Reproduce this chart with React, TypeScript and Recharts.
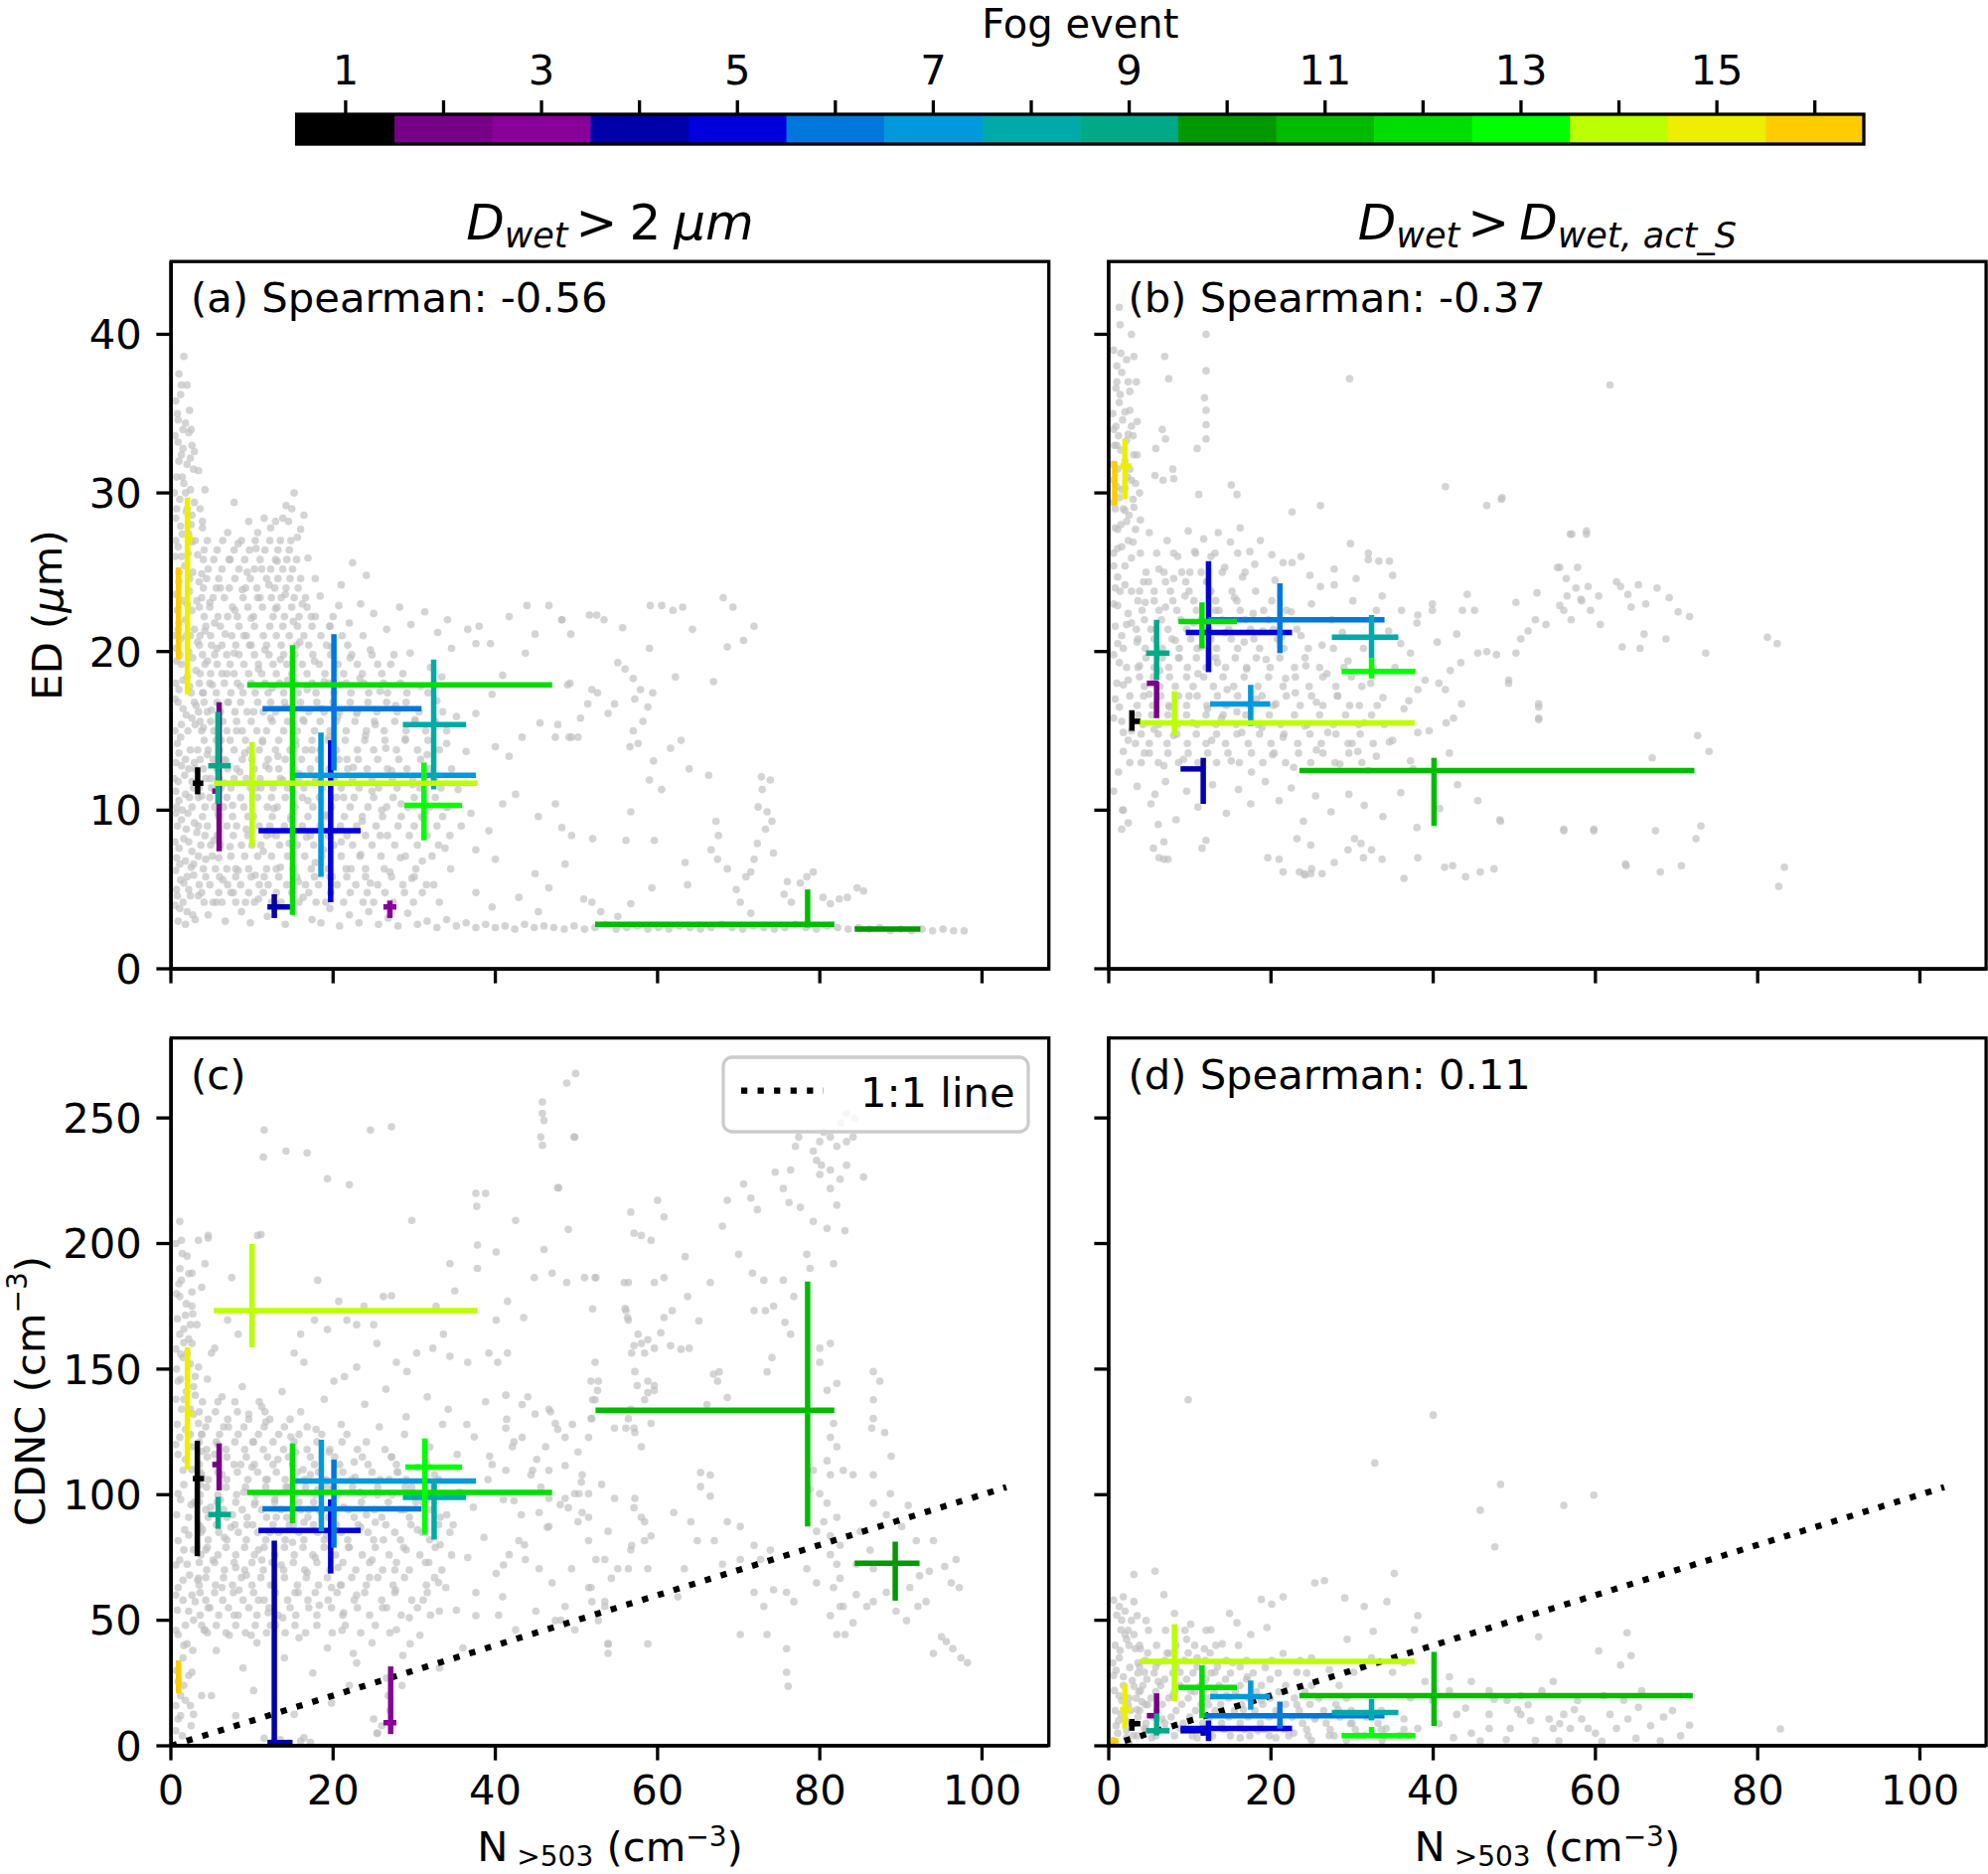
import React from 'react';
import { ScatterChart, Scatter, XAxis, YAxis, ErrorBar } from 'recharts';

const FONT = "'DejaVu Sans', sans-serif";

// fog event colours (nipy_spectral, 16 steps)
const eventColors = [
  '#000000', '#770088', '#880099', '#0000aa', '#0000dd', '#0077dd', '#0099dd', '#00aaaa',
  '#00aa88', '#009900', '#00bb00', '#00dd00', '#00ff00', '#bbff00', '#eeee00', '#ffcc00',
];
const eventTicks = [1, 3, 5, 7, 9, 11, 13, 15];

const xTicks = [0, 20, 40, 60, 80, 100];
const edTicks = [0, 10, 20, 30, 40];
const cdncTicks = [0, 50, 100, 150, 200, 250];

// [event, x median, x q25, x q75, y median, y q25, y q75]
const edWideEvents = [
  [1, 3.3, 2.7, 4.0, 11.7, 11.0, 12.7],
  [2, 5.95, 5.1, 6.0, 11.2, 7.4, 16.8],
  [3, 27.0, 26.2, 27.8, 3.9, 3.2, 4.3],
  [4, 12.75, 11.9, 14.7, 3.9, 3.2, 4.7],
  [5, 19.7, 10.8, 23.4, 8.7, 4.2, 14.4],
  [6, 20.1, 11.3, 30.9, 16.4, 12.5, 21.1],
  [7, 18.5, 15.3, 37.6, 12.2, 5.8, 14.9],
  [8, 32.4, 28.6, 36.4, 15.4, 11.3, 19.5],
  [9, 5.8, 4.6, 7.4, 12.8, 10.4, 16.2],
  [10, 88.0, 84.3, 92.4, 2.5, 2.45, 2.55],
  [11, 78.5, 52.3, 81.8, 2.8, 2.6, 5.0],
  [12, 15.0, 9.4, 47.0, 17.9, 3.4, 20.4],
  [13, 31.2, 28.8, 35.9, 10.3, 8.1, 13.0],
  [14, 10.0, 5.3, 37.8, 11.7, 7.7, 14.3],
  [15, 2.04, 1.7, 2.7, 27.1, 17.3, 29.7],
  [16, 0.94, 0.9, 1.0, 22.4, 19.5, 25.3],
];

const edActEvents = [
  [1, 2.85, 2.8, 3.9, 15.6, 15.0, 16.3],
  [2, 5.9, 4.7, 6.1, 18.0, 15.8, 18.1],
  [4, 11.65, 8.85, 11.65, 12.6, 10.4, 13.3],
  [5, 12.3, 9.5, 22.6, 21.2, 18.7, 25.7],
  [6, 21.1, 12.3, 34.0, 22.0, 19.9, 24.3],
  [7, 17.5, 12.5, 19.9, 16.7, 15.3, 17.9],
  [8, 32.4, 27.5, 35.7, 20.9, 19.6, 22.3],
  [9, 5.9, 4.6, 7.5, 19.9, 18.2, 22.0],
  [11, 40.1, 23.5, 72.2, 12.5, 9.0, 13.3],
  [12, 11.5, 8.6, 15.8, 21.9, 20.2, 23.1],
  [13, 32.4, 28.7, 37.8, 18.75, 18.3, 19.6],
  [14, 8.1, 3.85, 37.7, 15.5, 14.7, 17.5],
  [15, 2.0, 1.4, 2.8, 31.7, 29.6, 33.4],
  [16, 0.74, 0.7, 0.8, 30.5, 29.2, 32.0],
];

const cdncWideEvents = [
  [1, 3.26, 2.7, 4.1, 106.4, 75.5, 121.5],
  [2, 5.95, 5.1, 6.0, 112.0, 101.7, 120.4],
  [3, 27.1, 26.2, 27.8, 9.2, 4.7, 31.6],
  [4, 12.75, 11.9, 15.0, 1.3, 1.3, 81.7],
  [5, 19.7, 10.8, 23.4, 85.8, 68.6, 98.1],
  [6, 20.1, 11.3, 30.9, 94.4, 78.9, 114.0],
  [7, 18.55, 15.3, 37.6, 105.4, 85.4, 121.9],
  [8, 32.45, 28.6, 36.4, 98.9, 82.1, 106.4],
  [9, 5.83, 4.6, 7.4, 92.1, 86.4, 99.1],
  [10, 89.3, 84.3, 92.3, 72.7, 57.8, 81.3],
  [11, 78.5, 52.35, 81.8, 133.6, 87.3, 184.9],
  [12, 15.0, 9.4, 47.0, 100.9, 88.6, 120.4],
  [13, 31.3, 28.9, 35.9, 111.0, 84.1, 122.4],
  [14, 10.0, 5.3, 37.8, 173.3, 158.7, 199.8],
  [15, 2.04, 1.7, 2.7, 132.1, 110.1, 158.7],
  [16, 0.94, 0.9, 1.0, 27.0, 20.9, 34.0],
];

const cdncActEvents = [
  [1, 2.85, 2.5, 3.9, 8.8, 6.0, 10.7],
  [2, 5.9, 4.7, 6.1, 12.0, 11.6, 20.9],
  [4, 11.65, 8.85, 11.65, 6.0, 4.0, 8.0],
  [5, 12.3, 8.85, 22.6, 6.9, 1.9, 10.1],
  [6, 21.1, 11.8, 34.0, 12.0, 6.9, 17.6],
  [7, 17.5, 12.5, 19.9, 19.6, 14.4, 26.0],
  [8, 32.4, 27.5, 35.7, 13.3, 10.1, 18.7],
  [9, 5.9, 4.6, 7.5, 6.0, 4.1, 12.9],
  [11, 40.1, 23.5, 72.0, 20.0, 7.9, 37.4],
  [12, 11.5, 8.6, 15.8, 23.2, 11.0, 32.1],
  [13, 32.4, 28.7, 37.8, 4.1, 4.1, 7.5],
  [14, 8.1, 3.85, 37.7, 33.6, 17.8, 48.4],
  [15, 2.0, 1.4, 2.8, 14.4, 6.9, 24.7],
  [16, 0.7, 0.2, 1.2, 1.9, 1.0, 3.0],
];

const oneToOne = [{ x: 0, y: 0 }, { x: 103, y: 103 }];

// gray background samples [N>503, value]
const edWideCloud = [
  [1.0,37.5],[1.2,36.2],[0.8,35.0],[1.5,34.0],[0.9,33.2],[2.2,33.8],[2.6,33.0],[1.3,32.4],[2.0,31.8],[2.8,31.5],
  [0.7,31.0],[1.6,30.6],[2.4,30.2],[1.1,29.6],[2.9,29.4],[1.9,28.8],[0.6,28.4],[2.5,28.0],[1.4,27.4],[3.0,27.0],
  [0.9,26.6],[2.1,26.2],[1.7,25.4],[2.7,25.0],[1.0,24.4],[2.3,23.8],[3.2,23.2],[0.8,22.6],[1.8,22.0],[2.9,21.4],
  [1.2,20.8],[2.2,20.0],[0.7,19.4],[3.1,18.8],[1.5,18.2],[2.5,17.4],[0.9,16.8],[1.9,16.0],[3.0,15.4],[1.2,14.6],
  [2.4,13.8],[0.6,13.0],[1.7,12.2],[2.8,11.4],[1.0,10.6],[2.1,9.8],[0.8,9.0],[1.6,8.2],[2.6,7.4],[1.1,6.6],
  [2.0,5.8],[0.7,5.0],[1.5,4.2],[2.7,3.4],[0.9,3.0],[1.8,2.8],[3.0,3.1],[0.5,33.6],[1.8,34.4],[2.9,32.6],
  [3.4,31.4],[0.4,30.0],[3.6,29.0],[0.5,26.0],[3.3,26.1],[3.8,24.9],[0.4,21.0],[0.5,17.0],[0.4,12.0],[0.5,8.0],
  [0.5,4.0],[1.6,38.6],[1.3,36.8],[2.3,35.2],[1.5,32.8],[2.0,29.0],[1.2,27.9],[2.6,26.9],[3.9,27.8],[4.2,30.2],
  [15.2,30.0],[14.2,29.2],[16.0,27.7],[11.5,28.4],[10.7,27.5],[7.8,29.4],[7.0,27.5],[8.3,26.8],
  [10.5,26.5],[12.3,27.8],[13.8,28.4],[14.9,29.0],[15.6,27.2],[16.4,28.6],[13.1,25.7],[11.2,25.2],[16.9,25.9],[9.4,25.0],
  [7.2,25.8],[17.8,24.6],[22.4,25.6],[24.1,24.8],[21.0,24.2],
  [3.5,24.4],[4.8,23.1],[6.1,24.0],[5.4,21.8],[7.9,22.6],[8.8,23.9],[9.9,22.1],[11.0,23.4],[12.1,24.2],[12.9,22.7],
  [14.1,23.6],[15.1,21.9],[16.2,23.0],[17.3,22.2],[18.4,23.5],[19.6,21.6],[20.7,22.9],[22.0,21.8],[23.4,23.0],[25.0,22.4],
  [26.6,21.4],[28.2,22.8],[29.6,21.7],[31.3,22.5],[32.9,21.2],[34.1,22.0],[4.2,21.3],[6.7,21.1],[9.0,21.0],
  [3.3,20.6],[4.5,19.4],[5.7,20.2],[6.9,18.6],[7.8,19.9],[8.6,17.8],[9.7,20.4],[10.8,18.9],[11.6,20.1],[12.5,17.7],
  [13.5,19.5],[14.4,18.2],[15.9,20.6],[16.8,17.6],[17.7,19.4],[18.9,18.1],[19.8,20.3],[20.9,17.9],[22.1,19.6],[23.3,18.3],
  [24.6,20.1],[25.8,17.5],[27.1,19.2],[28.3,18.0],[29.5,19.9],[30.8,17.8],[32.0,19.0],[33.4,18.4],[34.6,20.2],[3.9,17.4],[5.1,17.9],
  [3.1,16.6],[4.0,15.2],[5.0,16.3],[6.2,14.4],[7.1,16.8],[8.1,15.0],[9.1,13.6],[10.2,16.2],[11.3,14.3],[12.3,15.8],
  [13.2,13.4],[14.2,16.5],[15.4,14.1],[16.3,15.7],[17.4,13.8],[18.6,16.4],[19.5,14.6],[20.6,15.9],[21.7,13.2],[22.9,16.1],
  [24.0,14.7],[25.2,15.4],[26.5,13.9],[27.7,16.6],[28.9,14.5],[30.1,15.7],[31.6,13.5],[32.8,16.9],[34.0,14.2],[35.2,15.9],
  [36.4,13.7],[4.5,13.5],[6.8,13.1],
  [3.0,12.6],[3.8,10.9],[4.9,12.0],[5.8,9.8],[6.6,11.7],[7.6,10.3],[8.5,12.4],[9.5,9.6],[10.5,11.4],[11.7,12.8],
  [12.7,10.1],[13.8,11.9],[14.8,9.4],[15.8,12.3],[16.9,10.6],[17.9,11.8],[19.1,9.7],[20.2,12.1],[21.3,10.8],[22.5,12.7],
  [23.6,9.3],[24.8,11.2],[26.0,10.0],[27.2,12.5],[28.4,10.4],[29.8,11.6],[31.1,9.5],[32.5,12.0],[33.9,10.2],[35.4,11.3],[37.0,9.8],
  [3.2,8.6],[4.3,6.9],[5.3,8.1],[6.4,5.6],[7.3,7.7],[8.3,6.2],[9.3,8.8],[10.4,5.9],[11.4,7.4],[12.4,8.5],
  [13.5,6.4],[14.6,7.9],[15.7,5.5],[16.7,8.3],[17.8,6.7],[18.8,7.5],[19.9,5.8],[21.0,8.0],[22.2,6.3],[23.4,7.2],
  [24.6,5.4],[25.8,8.4],[27.0,6.1],[28.3,7.0],[29.7,5.7],[31.0,6.8],[32.4,5.3],[33.8,7.6],[5.9,7.0],[2.8,5.9],
  [3.4,4.6],[4.6,3.4],[5.6,4.2],[6.7,3.0],[7.7,4.8],[8.7,3.6],[9.8,2.9],[10.8,4.4],[11.9,3.3],[13.0,4.1],
  [14.1,2.8],[15.2,3.5],[16.3,4.5],[17.4,3.1],[18.5,2.9],[19.6,3.8],[20.8,2.7],[22.0,3.4],[23.2,2.9],[24.4,3.6],
  [25.6,2.8],[26.8,3.2],[28.0,2.7],[29.2,3.5],[30.4,2.8],[31.6,3.0],[32.8,2.6],[34.0,3.1],[35.2,2.7],[36.4,2.9],
  [37.6,2.6],[38.8,2.8],[40.0,2.6],[41.2,2.7],[42.4,2.5],[43.6,2.8],[44.8,2.6],[46.0,2.7],
  [47.2,2.6],[48.5,2.5],[49.7,2.7],[51.0,2.5],[52.3,2.6],[53.6,2.8],[54.9,2.5],[56.2,2.6],[57.5,2.7],[58.8,2.5],
  [60.1,2.6],[61.4,2.5],[62.7,2.7],[64.0,2.6],[65.3,2.5],[66.6,2.6],[67.9,2.8],[69.2,2.6],[70.5,2.5],[71.8,2.7],
  [73.1,2.6],[74.4,2.5],[75.7,2.6],[77.0,2.8],[78.3,2.6],[79.6,2.5],[80.9,2.7],[82.2,2.6],[83.5,2.5],[84.8,2.6],
  [86.1,2.5],[87.4,2.6],[88.7,2.4],[90.0,2.5],[91.3,2.4],[92.6,2.5],[93.9,2.4],[95.2,2.5],[96.5,2.4],[97.8,2.4],
  [41.7,22.2],[43.9,22.9],[46.6,22.9],[48.2,22.0],[44.9,21.1],[43.7,19.9],[39.4,20.5],[38.0,21.6],[36.6,21.4],[37.6,20.5],
  [40.9,18.5],[39.6,17.3],[37.6,16.1],[40.0,14.0],[41.7,13.4],[43.3,14.6],[45.5,15.5],[47.4,14.6],[49.4,14.6],[49.2,18.0],
  [42.5,11.0],[40.9,10.4],[45.3,9.6],[47.4,10.4],[49.4,8.4],[39.2,8.7],[37.6,7.5],[40.0,6.9],[44.9,6.0],[46.6,5.1],
  [48.6,6.6],[42.9,4.5],[39.6,3.9],[37.6,4.8],[45.3,3.6],
  [68.1,23.4],[69.3,22.8],[68.6,20.3],[70.6,20.7],[71.9,21.6],[66.9,18.1],[66.3,12.2],[63.9,12.6],[60.5,11.3],[59.0,11.9],
  [56.7,9.9],[59.6,8.1],[56.1,8.1],[52.0,8.2],[48.2,8.9],[63.4,6.7],[63.7,5.3],[59.3,5.1],[67.2,9.3],[67.5,8.4],
  [66.6,7.5],[67.4,6.9],[68.6,6.3],[69.7,5.0],[70.9,5.8],[71.5,6.1],[71.9,6.9],[72.3,7.9],[72.4,10.2],[73.5,9.9],
  [74.1,9.3],[73.3,8.8],[74.3,7.3],[72.9,11.3],[73.9,11.9],[72.8,12.1],[76.0,5.5],[77.6,5.4],[78.4,5.8],[79.2,6.1],
  [80.4,4.5],[81.3,4.1],[82.4,4.4],[83.4,4.5],[84.6,5.1],[85.4,4.9],[75.6,4.7],[76.5,4.2],[70.2,4.2],[71.5,3.5],
  [50.9,4.4],[51.9,4.2],[56.7,4.1],[53.0,3.6],[55.1,3.3],
  [50.5,15.8],[50.2,14.6],[51.4,16.7],[51.9,17.6],[52.6,17.4],[53.9,16.1],[54.7,16.7],[55.1,19.3],[56.0,18.9],[57.0,18.3],
  [57.2,17.0],[57.0,15.0],[57.6,14.2],[58.2,15.6],[58.8,16.5],[59.4,17.4],[57.9,17.6],[56.6,14.0],[59.5,13.1],[61.6,13.9],
  [62.9,14.4],[62.2,18.4],[48.9,17.9],[47.7,15.4],[49.1,14.6],[55.7,21.5],[59.0,20.2],[64.3,21.4],[59.1,22.9],[60.5,22.9],
  [61.9,22.6],[63.1,22.8],[51.6,22.3],[52.5,22.3],[53.4,22.0],[48.2,22.0],[49.3,21.1],
];

// the densest part of panel (a)
const edWideCore = [
  [4.1,4.2],[5.2,4.2],[6.3,4.2],[8.0,4.2],[9.2,4.2],[10.3,4.2],[12.4,4.2],[13.6,4.2],[15.8,4.2],[17.9,4.2],[19.1,4.2],[21.3,4.2],[23.7,4.2],[25.0,4.2],[27.4,4.2],[29.9,4.2],[33.1,4.2],
  [3.5,5.3],[4.8,5.3],[7.0,5.3],[8.6,5.3],[10.9,5.3],[12.0,5.3],[14.3,5.3],[16.6,5.3],[18.2,5.3],[20.5,5.3],[22.8,5.3],[25.5,5.3],[28.6,5.3],[31.5,5.3],
  [4.0,6.3],[5.5,6.3],[6.9,6.3],[8.0,6.3],[9.6,6.3],[11.8,6.3],[13.0,6.3],[15.1,6.3],[17.3,6.3],[19.4,6.3],[21.6,6.3],[24.0,6.3],[26.3,6.3],[30.2,6.3],[34.5,6.3],
  [3.7,7.8],[4.9,7.8],[6.1,7.8],[8.7,7.8],[10.0,7.8],[11.1,7.8],[13.4,7.8],[15.6,7.8],[17.6,7.8],[20.1,7.8],[22.4,7.8],[24.8,7.8],[27.6,7.8],[30.4,7.8],[33.0,7.8],
  [3.4,9.0],[4.5,9.0],[6.9,9.0],[8.1,9.0],[10.9,9.0],[12.2,9.0],[14.0,9.0],[16.2,9.0],[18.4,9.0],[20.9,9.0],[22.9,9.0],[25.3,9.0],[28.0,9.0],[30.0,9.0],[32.8,9.0],[35.8,9.0],
  [4.2,10.2],[5.4,10.2],[6.5,10.2],[9.0,10.2],[11.9,10.2],[13.1,10.2],[15.3,10.2],[17.5,10.2],[19.8,10.2],[22.1,10.2],[24.3,10.2],[26.6,10.2],[29.2,10.2],[31.9,10.2],[34.2,10.2],
  [3.5,11.4],[5.0,11.4],[6.2,11.4],[7.4,11.4],[9.8,11.4],[11.1,11.4],[12.6,11.4],[14.4,11.4],[16.4,11.4],[18.7,11.4],[21.0,11.4],[23.2,11.4],[25.6,11.4],[27.9,11.4],[30.7,11.4],[33.3,11.4],
  [4.0,12.6],[5.7,12.6],[7.0,12.6],[8.1,12.6],[10.3,12.6],[12.1,12.6],[13.3,12.6],[15.2,12.6],[17.2,12.6],[19.5,12.6],[21.8,12.6],[24.2,12.6],[26.7,12.6],[29.1,12.6],[31.8,12.6],[34.6,12.6],
  [3.3,13.8],[4.6,13.8],[6.0,13.8],[7.8,13.8],[9.7,13.8],[10.9,13.8],[12.9,13.8],[14.7,13.8],[16.6,13.8],[18.4,13.8],[20.4,13.8],[23.0,13.8],[25.0,13.8],[27.8,13.8],[30.4,13.8],[33.1,13.8],
  [3.8,15.0],[5.3,15.0],[6.9,15.0],[8.8,15.0],[10.6,15.0],[11.8,15.0],[13.9,15.0],[15.6,15.0],[17.7,15.0],[19.6,15.0],[21.6,15.0],[24.1,15.0],[26.3,15.0],[29.0,15.0],[31.4,15.0],[34.0,15.0],
  [3.4,16.2],[4.5,16.2],[6.1,16.2],[7.9,16.2],[9.4,16.2],[11.4,16.2],[12.9,16.2],[15.0,16.2],[17.0,16.2],[18.9,16.2],[20.8,16.2],[23.0,16.2],[25.4,16.2],[27.9,16.2],[30.6,16.2],[33.5,16.2],
  [4.0,17.4],[5.6,17.4],[7.4,17.4],[8.9,17.4],[10.4,17.4],[12.0,17.4],[13.9,17.4],[15.7,17.4],[17.9,17.4],[20.1,17.4],[22.2,17.4],[24.4,17.4],[26.7,17.4],[29.1,17.4],[31.7,17.4],
  [3.6,18.6],[4.9,18.6],[6.3,18.6],[7.8,18.6],[9.6,18.6],[11.2,18.6],[13.0,18.6],[14.9,18.6],[16.8,18.6],[19.0,18.6],[21.3,18.6],[23.6,18.6],[26.0,18.6],[28.6,18.6],
  [3.9,19.8],[5.4,19.8],[6.9,19.8],[8.4,19.8],[10.3,19.8],[12.1,19.8],[13.9,19.8],[15.3,19.8],[17.5,19.8],[19.7,19.8],[22.3,19.8],[24.8,19.8],[27.5,19.8],
  [3.6,21.0],[4.9,21.0],[7.5,21.0],[9.3,21.0],[11.4,21.0],[13.0,21.0],[14.6,21.0],[16.4,21.0],[18.5,21.0],[21.1,21.0],[23.7,21.0],
  [4.1,22.2],[5.8,22.2],[7.0,22.2],[8.2,22.2],[10.2,22.2],[12.6,22.2],[14.0,22.2],[15.8,22.2],[17.8,22.2],[20.0,22.2],
  [3.8,23.4],[5.2,23.4],[6.6,23.4],[8.9,23.4],[10.7,23.4],[12.4,23.4],[13.6,23.4],[15.2,23.4],[16.6,23.4],
  [4.4,24.6],[5.9,24.6],[7.9,24.6],[9.8,24.6],[11.8,24.6],[13.2,24.6],[14.7,24.6],[16.0,24.6],
  [4.0,25.8],[5.3,25.8],[7.3,25.8],[9.1,25.8],[11.0,25.8],[12.9,25.8],[14.3,25.8],[15.5,25.8],
  [4.5,27.0],[6.4,27.0],[8.7,27.0],[10.4,27.0],[12.2,27.0],[13.5,27.0],[14.8,27.0],
  [3.9,28.2],[9.6,28.2],[12.9,28.2],[14.5,28.2],
  [0.6,35.8],[2.0,36.8],[1.0,32.0],[2.4,32.2],[1.8,30.0],[0.6,27.0],[2.6,28.6],[1.3,26.0],[2.3,24.6],[0.6,23.6],
  [1.5,23.2],[2.6,22.6],[1.0,21.8],[1.9,21.0],[0.6,20.2],[2.7,19.6],[1.3,19.2],[2.0,18.4],[0.6,18.0],[2.9,16.8],
  [1.5,16.4],[0.5,15.0],[2.1,15.0],[1.0,13.6],[2.9,13.0],[1.8,13.2],[0.6,11.2],[2.3,10.8],[1.4,10.0],[2.9,9.2],
  [0.6,9.8],[1.9,8.8],[1.0,7.6],[2.5,6.4],[1.6,5.4],[0.6,6.2],[2.4,4.6],[1.1,3.8],[2.0,3.6],
];

const edWideFill = [
  [3.8,4.8],[5.9,4.8],[7.4,4.8],[9.6,4.8],[11.4,4.8],[13.0,4.8],[14.9,4.8],[17.0,4.8],[19.7,4.8],[22.1,4.8],[24.2,4.8],[26.4,4.8],[28.8,4.8],[31.0,4.8],
  [4.3,5.8],[6.0,5.8],[8.0,5.8],[9.9,5.8],[11.5,5.8],[13.3,5.8],[15.5,5.8],[17.7,5.8],[19.6,5.8],[21.7,5.8],[24.0,5.8],[27.2,5.8],[30.0,5.8],
  [3.4,7.1],[5.1,7.1],[7.4,7.1],[9.1,7.1],[10.7,7.1],[12.4,7.1],[14.4,7.1],[16.5,7.1],[18.6,7.1],[21.0,7.1],[23.3,7.1],[25.9,7.1],[28.9,7.1],[32.2,7.1],
  [4.2,8.4],[5.7,8.4],[7.7,8.4],[9.5,8.4],[11.8,8.4],[13.0,8.4],[15.1,8.4],[17.2,8.4],[19.4,8.4],[21.7,8.4],[24.0,8.4],[26.7,8.4],[29.4,8.4],[31.6,8.4],[34.4,8.4],
  [3.9,9.6],[5.9,9.6],[7.6,9.6],[10.2,9.6],[12.5,9.6],[14.8,9.6],[16.9,9.6],[19.2,9.6],[21.4,9.6],[23.6,9.6],[26.1,9.6],[28.4,9.6],[30.9,9.6],[33.5,9.6],
  [3.4,10.8],[4.8,10.8],[6.9,10.8],[8.6,10.8],[10.7,10.8],[12.4,10.8],[14.1,10.8],[16.2,10.8],[18.3,10.8],[20.4,10.8],[22.6,10.8],[25.0,10.8],[27.4,10.8],[30.0,10.8],[32.6,10.8],
  [4.3,12.0],[5.9,12.0],[7.8,12.0],[9.3,12.0],[11.0,12.0],[13.5,12.0],[15.7,12.0],[17.8,12.0],[20.1,12.0],[22.4,12.0],[24.8,12.0],[27.3,12.0],[29.8,12.0],[32.4,12.0],
  [3.6,13.2],[5.2,13.2],[6.6,13.2],[8.8,13.2],[10.0,13.2],[12.0,13.2],[14.1,13.2],[16.1,13.2],[18.2,13.2],[20.7,13.2],[23.1,13.2],[25.5,13.2],[28.1,13.2],[30.8,13.2],
  [4.1,14.4],[5.6,14.4],[7.3,14.4],[9.2,14.4],[11.3,14.4],[13.3,14.4],[15.4,14.4],[17.4,14.4],[19.4,14.4],[21.5,14.4],[23.9,14.4],[26.4,14.4],[28.9,14.4],[31.7,14.4],
  [3.6,15.6],[4.9,15.6],[6.4,15.6],[8.1,15.6],[9.9,15.6],[12.5,15.6],[14.4,15.6],[16.4,15.6],[18.4,15.6],[20.4,15.6],[22.7,15.6],[25.1,15.6],[27.6,15.6],[30.1,15.6],[32.6,15.6],
  [4.1,16.8],[5.7,16.8],[7.0,16.8],[8.6,16.8],[10.7,16.8],[12.3,16.8],[14.0,16.8],[16.0,16.8],[18.0,16.8],[20.0,16.8],[22.1,16.8],[24.3,16.8],[26.6,16.8],[29.0,16.8],
  [3.5,18.0],[4.8,18.0],[6.6,18.0],[8.2,18.0],[9.9,18.0],[11.6,18.0],[13.4,18.0],[15.3,18.0],[17.4,18.0],[19.5,18.0],[21.6,18.0],[23.8,18.0],[26.2,18.0],
  [4.2,19.2],[5.7,19.2],[7.3,19.2],[9.0,19.2],[10.8,19.2],[12.6,19.2],[14.3,19.2],[16.2,19.2],[18.3,19.2],[20.6,19.2],[23.0,19.2],[25.5,19.2],
  [3.5,20.4],[5.0,20.4],[6.3,20.4],[8.0,20.4],[9.9,20.4],[11.8,20.4],[13.6,20.4],[15.5,20.4],[17.0,20.4],[19.2,20.4],[21.8,20.4],
  [4.3,21.6],[6.1,21.6],[8.4,21.6],[10.3,21.6],[12.2,21.6],[13.8,21.6],[15.6,21.6],[17.4,21.6],[19.6,21.6],
  [3.5,22.8],[4.8,22.8],[7.6,22.8],[9.5,22.8],[11.3,22.8],[13.1,22.8],[14.9,22.8],[16.8,22.8],
  [4.0,24.0],[5.6,24.0],[7.2,24.0],[9.2,24.0],[10.6,24.0],[12.8,24.0],[14.2,24.0],[15.7,24.0],
  [4.6,25.2],[6.3,25.2],[8.4,25.2],[10.3,25.2],[12.3,25.2],[13.8,25.2],[15.0,25.2],
  [4.1,26.4],[5.7,26.4],[7.8,26.4],[9.7,26.4],[11.6,26.4],[13.2,26.4],[14.6,26.4],
  [0.9,34.6],[2.5,34.0],[1.4,31.0],[0.7,29.0],[2.2,27.4],[1.0,25.0],[2.0,23.0],[0.9,21.4],[2.4,21.0],[1.1,19.8],
  [2.3,17.8],[1.0,17.6],[2.6,15.8],[1.3,15.4],[0.8,14.2],[2.2,12.6],[1.3,12.8],[2.6,11.8],[0.9,11.8],[1.8,11.0],
  [0.7,10.2],[2.6,10.2],[1.3,9.4],[2.2,8.0],[0.7,7.0],[1.8,6.8],[2.8,6.6],[1.2,5.6],[2.2,5.0],[0.8,4.6],
];

const edActCloud = [
  [1.3,41.7],[1.4,40.6],[2.8,40.0],[1.5,38.8],[3.1,38.6],[1.6,37.6],[3.4,37.0],[0.9,36.6],[1.3,35.7],[2.6,35.2],
  [3.5,34.5],[0.9,34.2],[2.2,33.3],[3.1,32.4],[1.1,31.5],[3.3,30.6],[1.3,29.7],[3.1,29.1],[2.2,28.2],[1.1,27.7],
  [3.3,27.7],[1.1,26.5],[2.8,25.9],[1.1,24.7],[2.8,23.8],[1.1,22.9],[2.2,21.7],[1.1,20.5],[1.3,19.3],[1.8,17.9],
  [1.3,16.5],[1.8,14.9],[1.8,13.7],[2.6,13.0],[1.8,10.0],[2.0,35.1],[2.4,33.7],[1.5,32.7],[2.6,31.5],[2.0,30.3],
  [3.5,32.4],[0.6,30.8],[0.7,33.0],[2.0,28.9],[0.8,29.0],[3.8,30.0],[3.9,28.3],[0.6,25.4],
  [12.0,40.0],[12.0,37.7],[11.8,36.0],[12.0,35.2],[12.0,34.3],[12.0,33.4],[10.9,32.8],
  [6.9,38.6],[7.4,37.2],[6.6,34.0],[7.0,33.4],[5.8,32.8],[5.7,31.1],[6.7,30.8],[8.0,30.9],[7.9,31.5],[15.1,30.5],
  [15.8,29.9],[11.1,29.9],[26.1,29.2],[22.6,28.8],[29.7,37.2],[61.8,36.8],[41.5,30.4],[46.6,29.2],[48.4,29.6],
  [5.0,27.5],[7.2,27.0],[8.5,26.0],[9.8,27.6],[10.6,26.3],[11.7,27.1],[12.6,26.0],[13.5,27.5],[15.0,26.9],[16.2,27.8],
  [17.4,26.3],[18.7,27.0],[6.2,25.2],[4.3,24.4],[8.0,24.6],[10.0,25.0],[12.1,24.4],[14.3,25.3],[16.5,24.7],[18.0,25.5],
  [20.5,24.5],[22.6,25.6],[24.8,24.8],[27.8,25.2],[30.5,24.6],[32.0,25.8],[35.0,24.8],
  [4.5,23.1],[5.8,21.4],[7.0,22.8],[8.2,20.7],[9.4,23.5],[10.5,21.8],[11.4,20.3],[13.2,22.6],[14.4,21.2],[15.5,23.4],
  [16.7,20.6],[17.8,22.4],[19.0,21.3],[20.1,23.2],[21.3,20.9],[22.5,22.5],[23.7,21.0],[25.0,23.0],[26.3,20.4],[27.5,22.0],
  [28.8,21.2],[30.1,23.2],[31.4,20.2],[33.0,22.6],[34.5,21.3],[36.0,20.5],[38.0,21.8],[40.5,20.6],[3.5,20.6],
  [3.8,19.1],[5.0,17.3],[6.3,18.8],[7.5,16.5],[8.7,19.6],[9.9,17.2],[11.0,18.6],[12.2,16.4],[13.4,19.3],[14.6,17.6],
  [15.8,16.2],[17.0,18.9],[18.2,17.0],[19.4,19.5],[20.6,16.7],[21.8,18.3],[23.0,17.4],[24.3,19.1],[25.6,16.8],[26.9,18.6],
  [28.2,17.2],[29.5,19.4],[30.9,16.6],[32.3,18.0],[33.8,17.1],[35.3,19.0],[37.0,16.9],[39.0,18.2],[41.5,17.6],[43.5,16.7],
  [3.2,15.6],[4.4,13.6],[5.6,15.1],[6.8,12.8],[8.0,14.7],[9.2,13.2],[10.3,15.5],[11.5,12.6],[12.7,14.4],[13.9,15.8],
  [15.1,13.1],[16.4,14.9],[17.6,12.4],[18.9,15.2],[20.2,13.5],[21.5,14.6],[22.8,12.7],[24.2,15.3],[25.6,13.8],[27.0,14.9],
  [28.5,12.9],[30.0,14.2],[31.5,15.5],[33.0,13.4],[35.0,14.4],[37.5,12.6],[39.5,15.0],[42.0,13.6],
  [3.5,11.5],[5.2,10.4],[7.0,11.8],[8.3,9.4],[9.6,11.2],[11.0,10.2],[12.8,11.6],[14.5,9.8],[16.0,11.3],[17.5,10.4],
  [19.3,11.8],[21.0,10.6],[22.5,11.4],[24.0,9.3],[25.5,10.9],[27.4,9.9],[29.6,11.0],[31.5,10.3],[33.8,9.6],[36.0,11.1],
  [38.0,8.9],[40.8,10.1],[43.0,11.6],[45.5,10.6],
  [5.5,7.6],[6.8,8.0],[7.3,6.9],[6.2,7.0],[11.5,7.6],[19.6,7.0],[21.0,6.9],[23.5,6.1],[24.2,5.9],[25.0,6.3],
  [26.3,6.0],[27.8,6.7],[29.5,7.5],[30.3,8.2],[31.4,7.0],[36.4,5.7],[44.0,5.8],[47.5,6.3],[2.4,9.2],[1.6,8.8],[42.4,6.5],
  [39.9,23.0],[39.9,22.6],[44.2,23.6],[43.6,22.6],[45.1,22.6],[42.9,21.1],[43.4,19.3],[45.5,19.9],[46.6,20.0],[42.1,18.8],
  [40.7,18.0],[42.5,15.8],[41.6,15.5],[50.2,23.1],[52.8,23.7],[55.6,25.3],[57.8,25.3],[56.9,27.4],[58.9,27.4],[50.2,19.9],
  [50.8,20.8],[51.7,21.3],[52.6,22.0],[53.9,21.7],[56.1,22.6],[57.0,22.0],[58.3,23.2],[59.1,24.1],[60.4,23.5],[55.6,22.9],
  [56.5,23.5],[63.1,24.1],[65.3,24.2],[64.4,22.8],[65.5,20.2],[49.3,18.2],[53.0,16.7],[53.0,15.8],[48.2,9.4],[45.8,6.1],
  [41.4,6.4],[38.1,7.0],[56.1,8.8],[59.8,8.8],[63.7,6.6],[32.4,7.5],[31.1,7.9],[33.7,6.9],[21.5,6.1],[24.1,6.0],
  [24.9,6.0],[5.7,11.0],[6.1,9.1],[6.8,6.9],[1.7,10.0],[12.0,8.1],[23.2,8.2],[24.9,7.8],
  [20.1,26.1],[21.5,25.6],[23.7,26.0],[26.1,24.1],[27.8,24.2],[29.8,26.8],[32.0,26.2],[33.3,25.7],[34.6,25.7],[33.7,23.5],
  [36.1,22.6],[38.1,22.3],[37.2,19.9],[38.1,17.6],[36.4,16.4],[34.6,14.3],[38.1,14.9],[37.2,13.1],[30.7,13.7],[32.0,12.5],
  [57.1,27.4],[58.9,27.6],[48.5,29.7],[55.3,25.3],[56.4,24.6],[57.6,24.0],[58.2,23.3],[59.4,22.6],[60.6,21.7],[62.6,24.4],
  [64.0,23.6],[66.2,23.0],[67.6,24.0],[69.1,23.4],[70.2,22.5],[71.6,22.2],[73.6,19.9],[68.7,20.8],[66.0,21.1],[63.3,20.3],
  [81.2,20.9],[82.4,20.5],[72.6,14.7],[74.0,13.7],[67.0,13.3],[72.4,8.2],[73.0,9.0],[63.8,6.5],[68.0,6.1],[70.6,6.5],
  [82.6,5.2],[83.3,6.4],[56.1,8.7],[59.8,8.7],[67.4,8.7],[48.3,9.3],[53.0,16.5],[53.0,15.7],[49.3,18.0],[47.8,19.8],
];

const edActCore = [
  [4.0,13.0],[6.1,13.0],[8.6,13.0],[11.0,13.0],[13.3,13.0],[16.1,13.0],[19.0,13.0],[21.8,13.0],[24.9,13.0],[27.9,13.0],[31.2,13.0],
  [3.3,14.2],[5.0,14.2],[7.2,14.2],[9.7,14.2],[12.0,14.2],[14.4,14.2],[17.2,14.2],[20.0,14.2],[23.3,14.2],[26.2,14.2],[29.5,14.2],[32.6,14.2],
  [4.2,15.4],[6.2,15.4],[8.5,15.4],[10.9,15.4],[13.2,15.4],[15.7,15.4],[18.4,15.4],[21.2,15.4],[24.5,15.4],[27.7,15.4],[30.8,15.4],[34.0,15.4],
  [3.5,16.6],[5.4,16.6],[7.4,16.6],[9.6,16.6],[12.1,16.6],[14.5,16.6],[17.4,16.6],[20.3,16.6],[23.6,16.6],[26.4,16.6],[29.7,16.6],[33.1,16.6],
  [4.4,17.8],[6.3,17.8],[8.2,17.8],[10.4,17.8],[12.9,17.8],[15.4,17.8],[18.4,17.8],[21.5,17.8],[24.7,17.8],[28.0,17.8],[31.2,17.8],
  [3.6,19.0],[5.6,19.0],[7.4,19.0],[9.7,19.0],[12.0,19.0],[14.4,19.0],[17.0,19.0],[19.9,19.0],[22.9,19.0],[26.0,19.0],[29.0,19.0],[32.6,19.0],
  [4.5,20.2],[6.6,20.2],[8.7,20.2],[10.9,20.2],[13.3,20.2],[15.9,20.2],[18.6,20.2],[21.6,20.2],[24.6,20.2],[27.7,20.2],
  [3.4,21.4],[5.2,21.4],[7.3,21.4],[9.6,21.4],[12.3,21.4],[14.8,21.4],[17.5,21.4],[20.3,21.4],[23.2,21.4],
  [4.1,22.6],[6.2,22.6],[8.4,22.6],[10.8,22.6],[13.6,22.6],[16.2,22.6],[19.1,22.6],[21.9,22.6],
  [3.8,23.8],[5.6,23.8],[7.6,23.8],[9.9,23.8],[12.6,23.8],[15.2,23.8],[18.1,23.8],
  [4.6,25.0],[6.8,25.0],[9.0,25.0],[11.4,25.0],[14.0,25.0],[16.8,25.0],
  [3.9,26.2],[5.9,26.2],[8.0,26.2],[10.7,26.2],[13.1,26.2],[15.9,26.2],
  [0.6,39.0],[2.2,38.4],[1.0,37.0],[2.6,36.4],[0.5,35.0],[1.7,34.6],[3.0,33.6],[1.0,33.0],[2.0,32.0],[0.5,31.8],
  [2.8,30.8],[1.6,30.2],[0.6,29.4],[2.5,28.6],[1.5,28.0],[3.0,26.9],[0.6,26.2],[2.0,25.4],[1.4,23.8],[0.6,23.0],
  [2.4,22.4],[1.6,21.0],[0.6,19.8],[2.2,19.0],[1.0,18.0],[2.6,17.2],[0.6,15.8],[2.4,14.4],[1.2,12.4],[0.6,11.2],
  [5.0,13.6],[7.3,13.6],[9.8,13.6],[12.2,13.6],[14.7,13.6],[17.6,13.6],[20.4,13.6],[23.4,13.6],[26.4,13.6],[29.6,13.6],
  [4.0,14.8],[6.1,14.8],[8.4,14.8],[10.8,14.8],[13.3,14.8],[15.8,14.8],[18.6,14.8],[21.6,14.8],[24.8,14.8],[28.0,14.8],[31.0,14.8],
  [3.6,16.0],[5.3,16.0],[7.3,16.0],[9.6,16.0],[12.0,16.0],[14.1,16.0],[16.9,16.0],[19.8,16.0],[22.9,16.0],[26.0,16.0],[29.2,16.0],[32.4,16.0],
  [4.3,17.2],[6.4,17.2],[8.6,17.2],[10.9,17.2],[13.4,17.2],[15.9,17.2],[18.9,17.2],[21.9,17.2],[25.0,17.2],[28.2,17.2],
  [3.8,18.4],[5.5,18.4],[7.5,18.4],[9.6,18.4],[11.7,18.4],[14.1,18.4],[16.7,18.4],[19.7,18.4],[23.0,18.4],[26.4,18.4],[29.9,18.4],
  [4.6,19.6],[6.6,19.6],[8.6,19.6],[10.8,19.6],[13.2,19.6],[15.6,19.6],[18.2,19.6],[21.1,19.6],[24.2,19.6],
  [3.6,20.8],[5.6,20.8],[7.8,20.8],[10.1,20.8],[12.6,20.8],[15.1,20.8],[17.9,20.8],[20.8,20.8],
  [4.4,22.0],[6.5,22.0],[8.9,22.0],[11.4,22.0],[14.0,22.0],[16.8,22.0],[19.7,22.0],
  [3.6,23.2],[5.6,23.2],[7.9,23.2],[10.5,23.2],[13.2,23.2],[15.8,23.2],
  [4.9,24.4],[7.0,24.4],[9.5,24.4],[12.1,24.4],
  [1.0,38.0],[2.4,37.0],[1.4,36.2],[0.6,34.0],[2.8,34.2],[1.2,33.6],[2.3,31.0],[1.0,30.4],[3.0,29.6],[1.8,29.0],
  [0.8,27.8],[2.4,27.0],[1.6,26.6],[0.8,24.0],[2.0,24.2],[2.8,21.8],[0.8,21.6],[1.8,20.2],[2.4,18.2],[0.8,17.0],
  [1.6,15.6],[2.8,15.0],
];

const cdncWideCloud = [
  [1.1,208.8],[1.3,201.3],[1.1,190.0],[1.3,185.4],[1.1,178.9],[2.6,175.1],[1.8,171.4],[3.2,167.7],[1.1,163.9],[2.6,160.2],
  [1.5,154.6],[3.4,150.8],[0.9,145.2],[3.0,139.6],[1.3,134.0],[3.4,128.4],[1.1,122.8],[3.8,117.2],[1.5,109.7],[0.9,100.4],
  [2.2,91.0],[0.9,81.7],[2.0,72.3],[0.9,63.0],[2.2,53.6],[0.9,44.3],[1.5,35.0],[0.9,25.6],[1.8,18.1],[0.9,10.7],
  [3.4,201.3],[4.6,203.2],[4.2,192.0],[2.6,188.2],[3.8,182.6],[2.6,180.7],[2.4,167.7],[2.0,156.4],[3.0,147.1],[2.4,134.0],
  [2.6,119.1],[3.8,107.9],[3.6,87.3],[3.4,66.7],[3.0,57.4],[4.2,46.2],[2.0,40.6],[2.6,29.3],[3.8,20.0],[2.8,12.5],
  [1.9,176.0],[0.8,170.0],[1.6,160.5],[0.7,150.0],[1.9,141.0],[0.8,128.0],[1.8,114.0],[2.9,97.0],[1.6,78.0],[0.6,6.0],
  [4.5,146],[6.3,139],[8.8,143],[11.2,135],[13.7,141],[16.0,133],[18.9,138],[21.4,147],[23.9,136],[26.5,142],
  [29.0,131],[31.6,139],[34.2,134],[36.5,128],[38.8,137],[41.4,130],[44.0,139],[46.8,133],[49.5,128],
  [3.8,124],[5.4,116],[7.1,127],[8.6,112],[10.1,121],[11.7,129],[13.2,114],[14.8,123],[16.3,110],[17.9,126],
  [19.5,117],[21.0,128],[22.6,113],[24.1,121],[25.7,127],[27.2,115],[28.8,124],[30.4,111],[31.9,119],[33.5,128],
  [35.3,116],[37.4,123],[39.6,112],[42.3,121],[45.1,114],[47.7,126],[50.2,117],
  [3.6,104],[4.9,95],[6.3,108],[7.6,92],[9.0,101],[10.3,96],[11.7,106],[13.0,91],[14.4,103],[15.8,97],
  [17.2,108],[18.5,93],[19.9,102],[21.3,95],[22.7,107],[24.1,92],[25.5,100],[26.9,106],[28.3,94],[29.7,103],
  [31.1,97],[32.5,108],[34.0,92],[35.6,101],[37.3,95],[39.1,106],[41.0,98],[43.2,92],[45.6,103],[48.0,96],[50.6,105],
  [3.9,86],[5.2,74],[6.6,83],[8.0,71],[9.4,88],[10.8,78],[12.2,85],[13.6,72],[15.0,81],[16.4,89],
  [17.8,75],[19.2,84],[20.6,71],[22.0,79],[23.4,87],[24.8,74],[26.2,82],[27.6,70],[29.0,78],[30.4,86],
  [31.8,73],[33.2,80],[34.8,88],[36.6,75],[38.6,83],[41.0,72],[43.6,80],[46.4,87],
  [3.3,66],[4.8,55],[6.3,63],[7.8,52],[9.3,68],[10.8,58],[12.3,64],[13.8,51],[15.3,61],[16.8,69],
  [18.3,56],[19.8,63],[21.3,53],[22.9,60],[24.5,67],[26.1,55],[27.7,62],[29.4,51],[31.1,58],[33.0,65],
  [35.2,54],[37.6,61],[40.4,52],
  [4.1,46],[5.6,38],[7.2,44],[8.9,31],[10.6,41],[12.3,48],[14.0,35],[15.8,43],[17.5,29],[19.3,39],
  [21.1,46],[22.9,33],[24.8,41],[26.6,27],[28.6,36],[30.7,44],[33.1,31],[36.0,39],
  [5.0,20],[8.0,12],[11.5,3],[12.5,1.5],[13.5,2.5],[14.5,1.2],[16.0,2],[17.2,1.4],[25.5,5],[26.0,8],
  [27.0,14],[26.8,20],[19.8,17],[10.2,22],[22.0,24],[28.5,24],
  [5.8,120],[9.6,132],[12.8,98],[15.4,117],[18.1,102],[7.4,87],[10.0,111],[14.6,88],[20.5,86],[23.3,101],
  [8.4,62],[6.1,98],[11.2,74],[17.0,94],[27.9,109],[25.2,89],[12.0,53],[20.9,64],[9.9,44],[4.3,78],
  [11.5,245.2],[14.2,236.8],[16.8,236.1],[11.4,234.4],[24.6,245.2],[27.2,246.5],[19.3,225.8],[22.0,223.4],[4.6,202.2],[11.1,203.6],
  [18.1,185.4],[29.7,209.2],[37.6,220.0],[38.8,220.0],[37.7,214.8],[42.5,209.2],[37.8,199.4],[37.8,190.1],[47.8,222.2],[45.8,256.4],
  [45.8,251.8],[46.0,249.0],[48.8,263.9],[49.9,267.7],[45.6,242.4],[45.8,239.1],[49.8,242.4],[46.0,197.6],[47.0,188.2],[49.0,205.6],
  [44.8,186.4],[51.0,186.4],[52.3,186.4],[40.1,196.6],[40.1,169.5],[41.5,177.0],[43.5,170.5],[40.3,152.7],[41.5,156.4],[39.2,156.4],
  [34.4,192.0],[35.0,181.1],[32.7,175.1],[34.4,155.1],[36.6,152.7],[33.6,163.9],[27.2,179.2],[26.2,178.9],[25.0,167.7],[22.9,167.7],
  [23.8,175.1],[20.7,177.0],[21.7,169.5],[19.3,165.8],[17.7,169.5],[16.0,163.9],[15.2,156.4],[16.4,152.7],[20.1,145.2],[22.9,150.8],
  [25.4,160.2],[27.8,152.7],[30.3,156.4],[32.3,158.3],[29.1,149.0],[7.0,169.5],[8.3,163.9],[5.4,158.3],[5.0,156.4],[7.5,186.4],
  [10.7,203.2],[56.4,184.5],[56.0,174.2],[56.4,169.5],[57.6,163.9],[58.4,156.4],[56.8,156.4],[57.2,149.0],[58.8,145.2],[52.3,152.7],
  [52.7,145.2],[52.3,137.8],[51.9,130.3],[51.5,122.8],[50.7,107.9],[50.3,100.4],[50.7,92.9],[51.5,81.7],[53.5,74.2],[54.3,66.7],
  [51.5,63.0],[51.9,57.4],[53.9,40.6],[53.9,36.8],[47.0,64.9],[45.4,70.5],[43.7,74.2],[41.7,76.1],[42.9,81.7],[46.6,87.3],
  [45.4,92.9],[41.3,109.7],[39.3,115.3],[44.4,107.9],[42.3,97.6],[40.1,68.6],[37.6,51.8],[40.9,59.3],[49.4,70.5],[48.6,55.5],
  [33.1,53.6],[33.9,63.0],[27.8,46.2],[29.5,40.6],[22.5,36.8],[25.0,10.7],[25.4,5.0],[15.2,12.5],[16.4,3.2],
  [49.7,242.4],[47.7,222.2],[48.8,184.5],[52.0,174.0],[52.4,186.4],[55.9,184.5],[56.1,173.3],[56.3,170.5],[57.1,159.3],[58.0,160.2],
  [58.8,161.7],[59.6,158.3],[57.5,143.4],[58.8,140.6],[59.6,143.4],[56.7,134.0],[56.1,126.5],[57.1,126.5],[59.2,128.4],[51.8,145.2],
  [52.0,137.8],[51.8,130.3],[52.6,141.5],[60.4,164.5],[61.6,159.3],[62.9,157.9],[63.9,158.3],[65.1,169.2],[63.7,178.9],[61.8,173.3],
  [60.8,170.5],[59.6,184.5],[60.8,186.4],[59.2,201.3],[58.0,203.2],[57.1,204.1],[56.7,212.5],[60.0,217.2],[60.8,210.6],[63.4,194.8],
  [66.9,148.0],[67.6,148.9],[68.6,138.7],[66.1,135.9],[67.4,145.2],[66.5,107.8],[65.3,108.8],[65.3,103.2],[62.0,92.9],[64.1,89.2],
  [66.5,99.4],[68.6,89.2],[70.2,87.3],[71.9,79.8],[72.7,74.2],[73.9,77.9],[74.3,62.1],[75.9,61.1],[76.8,57.4],[71.9,61.1],
  [73.1,55.5],[73.5,44.3],[75.9,38.7],[75.9,29.3],[76.1,23.7],[70.2,74.2],[68.0,72.3],[67.0,81.7],[64.9,81.7],[63.3,70.5],
  [62.5,59.3],[70.2,44.3],[53.9,40.6],[58.8,40.6],[53.5,55.5],[51.8,63.0],[49.8,46.2],[48.1,50.0],[50.2,89.2],[49.0,94.8],
  [49.8,100.4],[57.1,94.8],[58.4,89.2],[59.2,83.6],[56.7,78.0],[55.1,70.5],[52.4,74.2],
  [80.0,240.6],[81.3,242.4],[82.1,238.7],[83.3,240.6],[84.1,242.4],[80.5,244.3],[82.6,248.0],[83.3,251.8],[84.3,249.9],[77.0,238.7],
  [77.4,242.4],[79.2,236.8],[79.6,233.1],[80.2,231.2],[81.3,229.3],[82.5,225.6],[83.3,231.2],[85.4,226.5],[80.0,227.5],[81.3,221.9],
  [82.1,215.3],[79.2,208.8],[80.9,206.0],[83.1,205.1],[78.4,195.7],[81.7,192.0],[78.8,190.1],[77.6,214.4],[76.2,216.3],[75.5,221.9],
  [76.4,229.3],[74.5,228.4],[70.6,223.7],[71.5,218.1],[72.3,213.5],[68.6,217.2],[68.0,206.9],[70.0,195.7],[71.7,188.2],[73.1,185.4],
  [66.5,184.5],[71.9,173.3],[73.3,173.3],[74.3,175.1],[75.7,168.6],[76.4,163.9],[76.8,178.9],[75.5,185.4],[73.5,148.9],[74.1,154.6],
  [80.0,158.3],[81.3,160.2],[80.0,152.7],[80.9,141.5],[82.1,144.3],[81.7,128.4],[81.3,122.8],[82.1,119.1],[80.9,113.5],[81.3,107.9],
  [82.9,109.7],[84.1,107.9],[79.2,109.7],[78.8,102.2],[80.0,100.4],[80.9,96.6],[82.1,91.0],[80.5,89.2],[79.6,85.4],[81.3,83.6],
  [82.5,79.8],[81.3,76.1],[82.1,72.3],[82.5,66.7],[81.7,63.0],[82.5,55.5],[81.3,51.8],[82.1,44.3],[83.1,44.3],[79.6,64.9],
  [78.4,70.5],[86.6,149.0],[87.4,145.2],[86.6,137.8],[86.6,130.3],[86.4,126.5],[88.0,124.7],[88.8,115.3],[86.6,107.9],[88.7,100.4],
  [90.9,95.7],[88.2,92.0],[86.6,96.6],[85.0,85.4],[86.2,77.9],[84.5,72.3],[86.6,70.5],[90.1,87.3],[91.9,81.7],[94.0,81.7],
  [95.4,71.4],[96.8,74.2],[93.5,69.5],[92.3,67.7],[91.1,63.0],[89.4,53.6],[90.7,49.9],[92.1,55.5],[93.1,57.4],[96.2,64.9],
  [97.2,63.0],[88.2,61.1],[85.8,55.5],[84.1,49.0],[82.9,55.5],[95.0,43.4],[95.6,41.5],[96.4,38.7],[97.4,35.0],[98.2,33.1],
  [94.0,36.8],[84.5,60.2],[86.6,57.4],
  [41.3,139.6],[43.3,135.9],[44.9,132.1],[46.6,134.0],[47.4,128.4],[48.6,122.8],[46.2,119.1],[43.3,122.8],[41.3,126.5],[42.1,119.1],
  [44.6,109.7],[46.6,109.7],[48.6,111.6],[46.6,98.5],[48.6,98.5],[51.5,100.4],[53.1,104.1],[54.7,98.5],[57.2,98.5],[58.0,91.0],
  [58.4,81.7],[56.8,79.8],[53.9,85.4],[51.5,91.0],[56.4,70.5],[58.8,70.5],[53.5,57.4],[52.7,49.9],[45.0,53.6],[47.4,49.9],
  [42.5,46.2],[58.0,119.1],[57.2,124.7],[56.4,130.3],[54.7,126.5],[58.4,137.8],[59.6,141.5],
];

const cdncWideCore = [
  [4.5,45],[6.8,45],[9.2,45],[11.8,45],[14.1,45],[16.6,45],[19.9,45],[23.4,45],[27.0,45],
  [3.6,52],[5.9,52],[8.3,52],[10.6,52],[13.2,52],[15.4,52],[18.0,52],[21.2,52],[24.5,52],[28.4,52],[32.0,52],
  [4.3,58],[6.4,58],[8.9,58],[11.5,58],[14.4,58],[16.9,58],[19.4,58],[22.6,58],[26.0,58],[29.7,58],
  [3.5,64],[5.5,64],[7.6,64],[10.0,64],[12.7,64],[15.6,64],[18.2,64],[21.0,64],[24.1,64],[27.4,64],[31.5,64],
  [4.4,70],[6.6,70],[9.1,70],[11.4,70],[13.9,70],[16.5,70],[19.6,70],[22.8,70],[26.1,70],[29.4,70],[33.4,70],
  [3.7,76],[5.8,76],[8.0,76],[10.3,76],[12.8,76],[15.2,76],[17.5,76],[20.3,76],[23.6,76],[26.9,76],[30.7,76],[34.6,76],
  [4.6,82],[6.9,82],[9.3,82],[11.7,82],[14.1,82],[16.4,82],[18.9,82],[21.8,82],[25.0,82],[28.3,82],[31.9,82],
  [3.4,88],[5.6,88],[7.9,88],[10.1,88],[12.6,88],[15.1,88],[17.6,88],[20.4,88],[23.1,88],[26.5,88],[29.6,88],[33.0,88],
  [4.3,94],[6.5,94],[8.8,94],[11.2,94],[13.6,94],[16.0,94],[18.3,94],[21.9,94],[25.1,94],[28.8,94],[31.9,94],
  [3.6,100],[5.8,100],[8.1,100],[10.5,100],[12.9,100],[15.3,100],[17.8,100],[20.6,100],[23.8,100],[27.3,100],[30.5,100],[34.1,100],
  [4.6,106],[6.9,106],[9.5,106],[11.9,106],[14.1,106],[16.5,106],[19.1,106],[22.3,106],[25.8,106],[29.0,106],[33.0,106],
  [3.5,112],[5.6,112],[7.8,112],[10.3,112],[12.6,112],[15.0,112],[17.7,112],[20.8,112],[24.3,112],[27.8,112],[31.6,112],
  [4.4,118],[6.8,118],[9.1,118],[11.4,118],[13.9,118],[16.8,118],[19.6,118],[23.0,118],[26.4,118],
  [3.8,124],[6.0,124],[8.3,124],[10.8,124],[13.3,124],[15.8,124],[18.6,124],[21.7,124],
  [4.6,130],[7.0,130],[9.6,130],[12.2,130],[14.7,130],
  [3.9,137],[5.8,137],[7.9,137],[10.9,137],
  [0.6,200],[2.0,195],[1.0,184],[2.7,172],[1.6,166],[0.6,158],[2.4,152],[1.2,146],[2.8,132],[0.6,138],
  [1.8,126],[2.6,110],[0.9,116],[1.6,104],[2.5,96],[0.7,92],[1.7,86],[2.8,78],[0.6,72],[1.5,66],
  [2.6,60],[0.8,54],[1.8,48],[2.7,38],[0.7,30],[1.6,24],[2.4,16],[1.2,12],[0.6,16],
];

const cdncWideFill = [
  [3.8,48],[5.6,48],[8.0,48],[10.4,48],[12.9,48],[15.3,48],[18.0,48],[21.5,48],[25.2,48],
  [4.6,55],[7.1,55],[9.6,55],[12.1,55],[14.7,55],[17.0,55],[19.8,55],[23.0,55],[26.6,55],[30.4,55],
  [3.6,61],[5.4,61],[7.7,61],[10.2,61],[12.9,61],[15.7,61],[17.8,61],[20.5,61],[23.9,61],[27.6,61],[31.6,61],
  [4.3,67],[6.5,67],[8.7,67],[11.1,67],[14.0,67],[16.7,67],[19.3,67],[22.3,67],[25.5,67],[28.8,67],[32.5,67],
  [3.5,73],[5.4,73],[7.8,73],[10.0,73],[12.5,73],[15.1,73],[18.0,73],[21.2,73],[24.5,73],[27.8,73],[31.4,73],
  [4.5,79],[6.8,79],[9.1,79],[11.5,79],[14.0,79],[16.3,79],[18.9,79],[21.9,79],[25.2,79],[28.7,79],[32.6,79],
  [3.7,85],[5.9,85],[8.3,85],[10.7,85],[13.3,85],[15.8,85],[18.1,85],[21.0,85],[24.3,85],[27.6,85],[31.0,85],[34.4,85],
  [4.6,91],[6.9,91],[9.4,91],[11.8,91],[14.3,91],[16.9,91],[19.4,91],[22.6,91],[26.0,91],[29.4,91],[33.2,91],
  [3.5,97],[5.7,97],[8.0,97],[10.4,97],[12.8,97],[15.2,97],[17.6,97],[20.0,97],[23.5,97],[26.8,97],[30.2,97],
  [4.4,103],[6.8,103],[9.2,103],[11.7,103],[14.2,103],[16.6,103],[19.3,103],[22.4,103],[25.5,103],[28.9,103],[32.4,103],
  [3.6,109],[5.8,109],[8.2,109],[10.7,109],[13.0,109],[15.6,109],[18.2,109],[21.2,109],[24.8,109],[28.0,109],
  [4.5,115],[6.9,115],[9.3,115],[11.9,115],[14.5,115],[17.2,115],[20.2,115],[23.6,115],[27.2,115],
  [3.5,121],[5.6,121],[7.9,121],[10.2,121],[12.6,121],[15.2,121],[18.0,121],[21.1,121],
  [4.3,127],[6.5,127],[9.0,127],[11.5,127],[14.0,127],[16.8,127],
  [3.5,133],[5.5,133],[8.2,133],[11.6,133],
  [1.4,196],[2.2,188],[0.7,180],[2.2,162],[1.2,156],[2.8,143],[1.6,138],[0.6,120],[2.4,124],[1.2,98],
  [2.2,84],[1.1,74],[2.3,68],[0.6,60],[1.5,58],[2.8,50],[0.6,46],[1.6,40],[2.2,28],[1.2,20],[2.5,8],[1.4,4],
];

const cdncActCloud = [
  [1.8,59.3],[3.1,68.2],[2.0,53.6],[2.8,49.9],[1.5,46.2],[2.2,42.4],[3.3,38.7],[1.3,35.0],[2.6,31.2],[1.8,27.5],
  [3.1,23.7],[1.3,20.0],[2.4,16.3],[1.5,12.5],[2.8,8.8],[1.1,5.0],[2.2,3.2],[1.3,55.5],[3.1,57.4],[3.5,51.8],
  [2.0,44.3],[3.1,44.3],[3.9,38.7],[4.4,29.3],[3.9,21.9],[3.5,14.4],[4.4,6.9],[0.8,40.0],[0.9,30.0],[0.7,22.0],
  [1.6,18.0],[0.8,14.0],[2.0,10.5],[0.9,8.0],[3.6,33.0],[2.9,26.0],[4.1,17.5],[3.0,4.0],
  [5.7,69.5],[6.8,60.2],[4.6,49.9],[8.1,52.7],[10.1,48.4],[12.6,46.2],[14.9,52.7],[15.8,49.0],[18.8,58.3],[20.1,56.4],
  [21.5,59.3],[25.4,64.9],[26.6,65.8],[29.1,58.9],[31.5,55.5],[34.3,57.4],[35.2,68.6],[32.6,45.6],[38.1,51.8],[37.7,46.2],
  [19.5,47.1],[17.5,44.3],[14.0,40.6],[11.8,38.7],[9.6,42.4],[7.4,36.8],[6.1,33.1],[8.8,29.3],[10.9,35.0],[13.1,29.3],
  [15.3,33.1],[17.1,27.5],[19.3,31.2],[21.5,36.8],[23.2,29.3],[25.0,35.0],[27.2,30.3],[29.4,42.4],[30.2,29.3],[32.4,35.0],
  [35.0,29.3],[36.4,33.1],[6.1,25.6],[7.9,20.0],[10.1,21.9],[12.3,16.3],[14.5,20.0],[16.6,14.4],[18.8,18.1],[21.0,12.5],
  [23.2,16.3],[25.4,10.7],[28.3,14.4],[29.8,8.8],[32.0,12.5],[34.2,6.9],[36.4,10.7],[38.1,6.9],[6.6,10.7],[8.8,6.9],
  [10.9,3.2],[14.0,6.9],[16.2,3.2],[18.4,6.0],[20.6,3.2],[22.8,5.0],[25.0,2.2],[27.2,4.1],[29.3,2.2],[31.5,4.1],
  [33.7,2.2],[35.9,4.1],[4.8,16.3],[5.3,3.2],
  [42.0,27.5],[44.7,25.6],[46.9,21.9],[49.1,18.1],[50.4,14.4],[51.7,16.3],[53.4,21.9],[54.8,25.6],[53.0,43.4],[56.1,12.5],
  [57.4,14.4],[58.3,10.7],[59.1,6.9],[60.0,5.0],[56.9,6.9],[55.6,8.8],[54.3,10.7],[50.8,12.5],[49.5,6.9],[46.9,6.9],
  [42.9,12.5],[40.7,8.8],[42.5,3.2],[44.7,5.0],[52.6,2.2],[62.6,6.9],[63.9,45.0],[60.4,37.8],[64.4,35.9],[63.1,32.1],
  [65.7,21.9],[63.5,18.1],[61.8,12.5],[64.0,10.7],[65.3,15.3],[42.0,21.9],[39.9,18.1],[39.0,25.6],[37.2,19.1],[46.9,12.5],
  [50.8,20.0],[54.8,6.9],[82.8,6.7],[70.5,4.0],[71.6,8.2],[68.4,11.5],
  [9.8,137.8],[48.3,104.1],[45.8,93.8],[56.1,95.7],[59.8,99.8],[40.0,131.7],[32.8,112.6],[47.6,79.2],
];

const cdncActCore = [
  [3.5,4],[5.8,4],[8.1,4],[10.3,4],[12.8,4],[15.0,4],[17.4,4],[19.8,4],[22.2,4],[24.6,4],[27.8,4],[30.8,4],[34.0,4],[37.0,4],
  [3.2,9],[4.6,9],[6.9,9],[9.2,9],[11.6,9],[13.9,9],[16.2,9],[18.7,9],[21.2,9],[23.9,9],[26.8,9],[30.0,9],[33.2,9],
  [3.8,14],[5.9,14],[8.3,14],[10.7,14],[13.1,14],[15.5,14],[18.0,14],[20.6,14],[23.5,14],[26.5,14],[29.9,14],[33.6,14],
  [3.4,19],[5.2,19],[7.4,19],[9.8,19],[12.2,19],[14.8,19],[17.2,19],[19.9,19],[22.9,19],[25.9,19],[29.3,19],
  [4.2,24],[6.4,24],[8.8,24],[11.3,24],[13.6,24],[16.2,24],[18.8,24],[21.8,24],[25.0,24],[28.4,24],
  [3.6,29],[5.6,29],[7.9,29],[10.4,29],[12.6,29],[15.0,29],[17.8,29],[20.9,29],[24.4,29],
  [4.5,34],[6.9,34],[9.3,34],[11.9,34],[14.5,34],[17.0,34],[20.1,34],[23.6,34],
  [3.8,40],[5.9,40],[8.3,40],[10.6,40],[13.2,40],[16.0,40],
  [4.9,46],[7.0,46],[9.4,46],[12.0,46],
  [0.6,58],[1.6,50],[2.5,40],[0.5,33],[1.8,24],[2.7,14],[0.5,2],[2.5,1],
  [44.0,15.0],[47.5,18.5],[52.0,10.0],[57.8,18.0],[61.0,20.0],[66.8,8.0],[69.5,14.0],[45.8,2.0],[49.0,2.5],[55.5,2.0],
  [60.8,1.8],[65.0,3.0],[68.0,2.0],
  [4.6,6.5],[7.0,6.5],[9.4,6.5],[11.9,6.5],[14.3,6.5],[16.7,6.5],[19.2,6.5],[21.7,6.5],[24.4,6.5],[27.3,6.5],[30.4,6.5],[33.6,6.5],[36.4,6.5],
  [3.6,11.5],[5.5,11.5],[7.7,11.5],[10.0,11.5],[12.4,11.5],[14.8,11.5],[17.2,11.5],[19.8,11.5],[22.6,11.5],[25.5,11.5],[28.5,11.5],[31.8,11.5],
  [4.5,16.5],[6.6,16.5],[9.0,16.5],[11.4,16.5],[13.8,16.5],[16.4,16.5],[19.0,16.5],[21.8,16.5],[24.8,16.5],[28.0,16.5],
  [3.7,21.5],[5.8,21.5],[8.1,21.5],[10.6,21.5],[13.0,21.5],[15.6,21.5],[18.2,21.5],[21.0,21.5],[24.2,21.5],
  [4.7,26.5],[6.9,26.5],[9.6,26.5],[12.0,26.5],[14.4,26.5],[17.0,26.5],[19.9,26.5],
  [3.8,31.5],[5.8,31.5],[8.3,31.5],[10.9,31.5],[13.4,31.5],[16.2,31.5],
  [4.8,37],[7.2,37],[9.8,37],[12.5,37],
  [1.0,52],[2.4,46],[1.4,38],[0.6,28],[2.5,19],[1.2,10],[2.2,6],[0.6,2],
];

// layout (pixels in the 2001x1886 figure)
const PW = 883.4;
const PH = 712;
const AX_W = 180;
const AX_H = 100;
const M_TOP = 20;
const COL_L = [172.3, 1115.7];
const ROW_T = [263.2, 1044.6];

const CB_L = 298.6;
const CB_W = 1577.4;
const CB_T = 115;
const CB_H = 30;

const tickFont = { fill: '#000', fontSize: 41.7, fontFamily: FONT };
const axisStroke = { stroke: '#000', strokeWidth: 3.3 };

function GrayDot(p: any) {
  return <circle cx={p.cx} cy={p.cy} r={3.8} fill="#c0c0c0" fillOpacity={0.68} />;
}

function NoMark() {
  return <g />;
}

function crossRows(rows: number[][]) {
  return rows.map(([ev, x, xl, xh, y, yl, yh]) => ({
    ev,
    x,
    y,
    ex: [x - xl, xh - x],
    ey: [y - yl, yh - y],
  }));
}

function Panel(props: {
  left: number;
  top: number;
  yDomain: [number, number];
  yTicks: number[];
  showX: boolean;
  showY: boolean;
  cloud: number[][];
  events: number[][];
  diag?: boolean;
}) {
  const { left, top, yDomain, yTicks, showX, showY, cloud, events, diag } = props;
  const pts = cloud.map(([x, y]) => ({ x, y }));
  const crosses = crossRows(events);
  return (
    <div style={{ position: 'absolute', left: left - AX_W, top: top - M_TOP }}>
      <ScatterChart
        width={AX_W + PW}
        height={M_TOP + PH + AX_H}
        margin={{ top: M_TOP, right: 0, bottom: 0, left: 0 }}
      >
        <XAxis
          type="number"
          dataKey="x"
          domain={[0, 108.2]}
          allowDataOverflow
          ticks={xTicks}
          interval={0}
          height={AX_H}
          tickSize={14.6}
          tickMargin={14.6}
          tickLine={axisStroke}
          axisLine={axisStroke}
          tick={tickFont}
          tickFormatter={showX ? (v: number) => String(v) : () => ''}
        />
        <YAxis
          type="number"
          dataKey="y"
          domain={yDomain}
          allowDataOverflow
          ticks={yTicks}
          interval={0}
          width={AX_W}
          tickSize={14.6}
          tickMargin={14.6}
          tickLine={axisStroke}
          axisLine={axisStroke}
          tick={tickFont}
          tickFormatter={showY ? (v: number) => String(v) : () => ''}
        />
        <Scatter data={pts} shape={GrayDot} isAnimationActive={false} zIndex={100} />
        {diag && (
          <Scatter
            data={oneToOne}
            shape={NoMark}
            line={{ stroke: '#000', strokeWidth: 6.25, strokeDasharray: '6.25 10.3' }}
            isAnimationActive={false}
            zIndex={150}
          />
        )}
        {crosses.map((c) => {
          const col = eventColors[c.ev - 1];
          return (
            <Scatter key={c.ev} data={[c]} shape={NoMark} isAnimationActive={false} zIndex={800}>
              <ErrorBar dataKey="ex" direction="x" width={0} stroke={col} strokeWidth={5.5} isAnimationActive={false} zIndex={800} />
              <ErrorBar dataKey="ey" direction="y" width={0} stroke={col} strokeWidth={5.5} isAnimationActive={false} zIndex={800} />
            </Scatter>
          );
        })}
      </ScatterChart>
    </div>
  );
}

function XLabel({ cx }: { cx: number }) {
  return (
    <text x={cx} y={1873} textAnchor="middle" fontSize={41.7}>
      N
      <tspan fontSize={28} dy={5}>{' >503'}</tspan>
      <tspan dy={-5}>{' (cm'}</tspan>
      <tspan fontSize={28} dy={-15}>−3</tspan>
      <tspan dy={15}>)</tspan>
    </text>
  );
}

export default function App() {
  const cellW = CB_W / 16;
  const cx0 = COL_L[0] + PW / 2;
  const cx1 = COL_L[1] + PW / 2;
  return (
    <div
      style={{
        position: 'absolute',
        left: 0,
        top: 0,
        width: 2001,
        height: 1886,
        background: '#fff',
        overflow: 'hidden',
        fontFamily: FONT,
      }}
    >
      <Panel left={COL_L[0]} top={ROW_T[0]} yDomain={[0, 44.6]} yTicks={edTicks} showX={false} showY cloud={[...edWideCloud, ...edWideCore, ...edWideFill]} events={edWideEvents} />
      <Panel left={COL_L[1]} top={ROW_T[0]} yDomain={[0, 44.6]} yTicks={edTicks} showX={false} showY={false} cloud={[...edActCloud, ...edActCore]} events={edActEvents} />
      <Panel left={COL_L[0]} top={ROW_T[1]} yDomain={[0, 281.7]} yTicks={cdncTicks} showX showY cloud={[...cdncWideCloud, ...cdncWideCore, ...cdncWideFill]} events={cdncWideEvents} diag />
      <Panel left={COL_L[1]} top={ROW_T[1]} yDomain={[0, 281.7]} yTicks={cdncTicks} showX showY={false} cloud={[...cdncActCloud, ...cdncActCore]} events={cdncActEvents} diag />

      <svg
        width={2001}
        height={1886}
        style={{ position: 'absolute', left: 0, top: 0, pointerEvents: 'none' }}
        fontFamily={FONT}
        fill="#000"
      >
        {/* colour bar */}
        <text x={CB_L + CB_W / 2} y={37.5} textAnchor="middle" fontSize={40}>Fog event</text>
        {eventColors.map((c, i) => (
          <rect key={c} x={CB_L + i * cellW} y={CB_T} width={cellW + 0.6} height={CB_H} fill={c} />
        ))}
        <rect x={CB_L} y={CB_T} width={CB_W} height={CB_H} fill="none" stroke="#000" strokeWidth={3.3} />
        {eventColors.map((c, i) => (
          <line key={'t' + i} x1={CB_L + (i + 0.5) * cellW} x2={CB_L + (i + 0.5) * cellW} y1={CB_T - 14} y2={CB_T} stroke="#000" strokeWidth={3.3} />
        ))}
        {eventTicks.map((e) => (
          <text key={'l' + e} x={CB_L + (e - 0.5) * cellW} y={85} textAnchor="middle" fontSize={41.7}>{e}</text>
        ))}

        {/* column titles */}
        <text x={cx0} y={241} textAnchor="middle" fontSize={50}>
          <tspan fontStyle="italic">D</tspan>
          <tspan fontStyle="italic" fontSize={35} dy={8}>wet</tspan>
          <tspan dy={-8} dx={8}>&gt;</tspan>
          <tspan dx={12}>2</tspan>
          <tspan fontStyle="italic" dx={13}>μm</tspan>
        </text>
        <text x={cx1} y={241} textAnchor="middle" fontSize={50}>
          <tspan fontStyle="italic">D</tspan>
          <tspan fontStyle="italic" fontSize={35} dy={8}>wet</tspan>
          <tspan dy={-8} dx={8}>&gt;</tspan>
          <tspan fontStyle="italic" dx={10}>D</tspan>
          <tspan fontStyle="italic" fontSize={35} dy={8}>wet, act_S</tspan>
        </text>

        {/* y labels */}
        <text transform="translate(47.5,619) rotate(-90)" textAnchor="middle" dominantBaseline="central" fontSize={41.7}>
          ED (<tspan fontStyle="italic">μ</tspan>m)
        </text>
        <text transform="translate(30,1400) rotate(-90)" textAnchor="middle" dominantBaseline="central" fontSize={41.7}>
          CDNC (cm<tspan fontSize={28} dy={-13}>−3</tspan><tspan dy={13}>)</tspan>
        </text>

        {/* x labels */}
        <XLabel cx={cx0} />
        <XLabel cx={cx1} />

        {/* axes frames */}
        {ROW_T.map((t) =>
          COL_L.map((l) => (
            <rect key={`${l}-${t}`} x={l} y={t} width={PW} height={PH} fill="none" stroke="#000" strokeWidth={3.3} />
          ))
        )}

        {/* panel annotations */}
        <text x={192} y={314} fontSize={41.7}>(a) Spearman: -0.56</text>
        <text x={1135.4} y={314} fontSize={41.7}>(b) Spearman: -0.37</text>
        <text x={192} y={1096} fontSize={41.7}>(c)</text>
        <text x={1135.4} y={1096} fontSize={41.7}>(d) Spearman: 0.11</text>

        {/* legend of panel c */}
        <rect x={728} y={1064} width={307} height={75} rx={9} fill="#fff" fillOpacity={0.8} stroke="#cccccc" strokeWidth={3.3} />
        <line x1={746} x2={829} y1={1097.6} y2={1097.6} stroke="#000" strokeWidth={6.25} strokeDasharray="6.25 10.3" />
        <text x={866} y={1114} fontSize={41.7}>1:1 line</text>
      </svg>
    </div>
  );
}
